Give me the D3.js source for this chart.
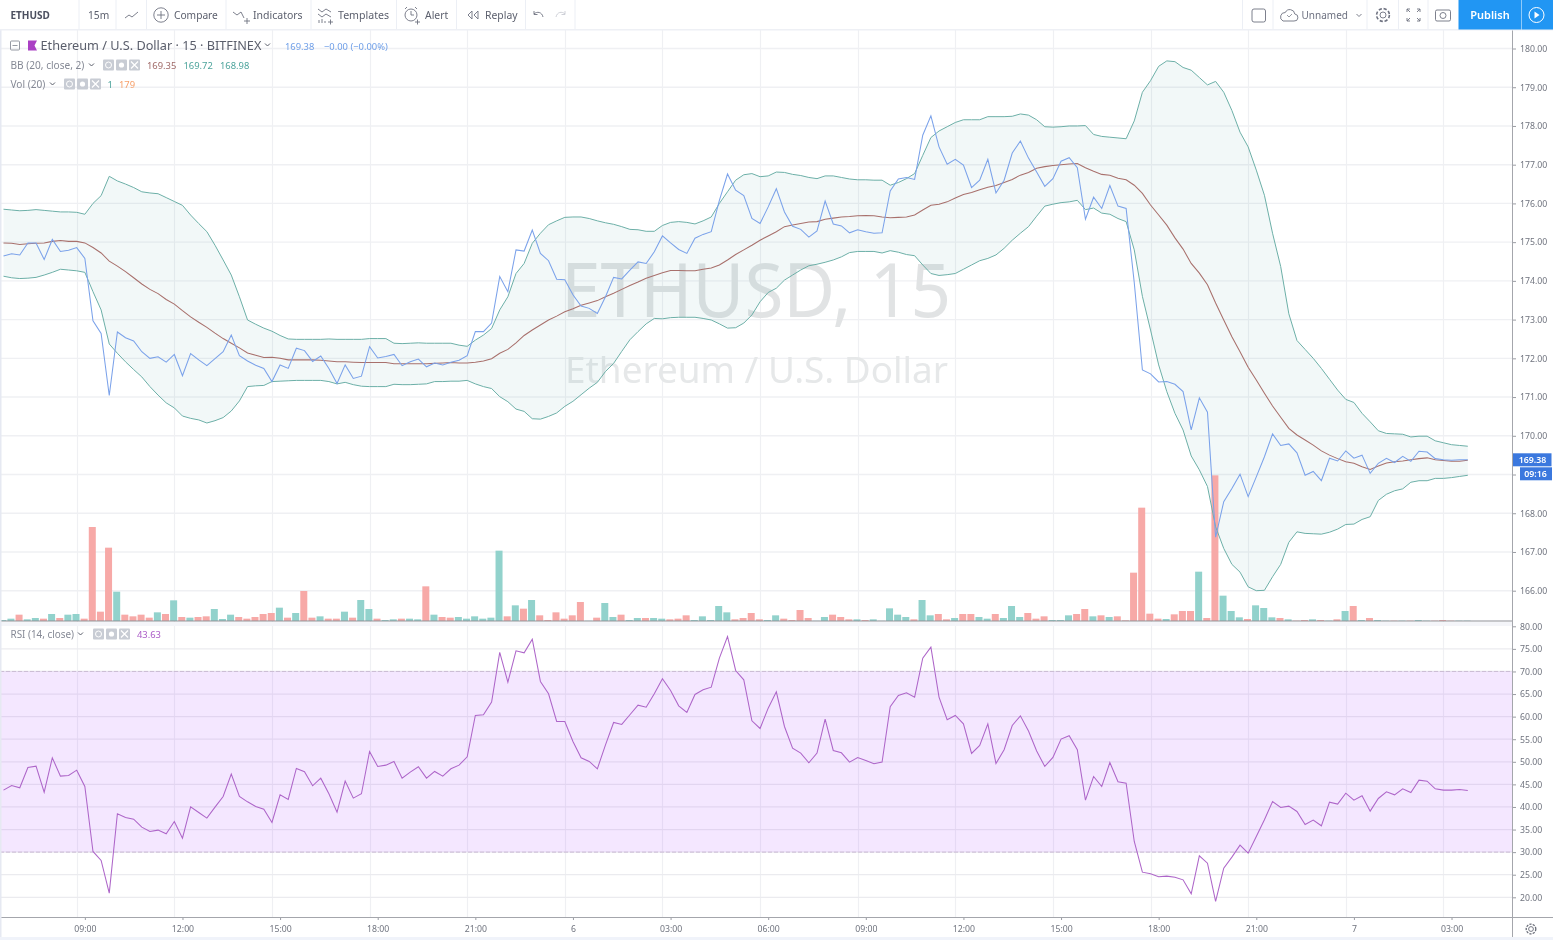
<!DOCTYPE html>
<html>
<head>
<meta charset="utf-8">
<title>ETHUSD</title>
<script src="https://cdnjs.cloudflare.com/ajax/libs/d3/7.8.5/d3.min.js"></script>
<style>
html,body{margin:0;padding:0;background:#fff;overflow:hidden}
svg{display:block;filter:blur(.3px)}
text{font-family:"Noto Sans",sans-serif}
</style>
</head>
<body>
<svg id="c" width="1553" height="940"></svg>
<script>
// ---------- data (one value per 15 minute bar) ----------
const close = [174.64,174.70,174.67,174.98,174.98,174.55,175.07,174.76,174.79,174.86,174.58,172.97,172.64,171.04,172.68,172.53,172.45,172.17,172.00,172.04,
171.90,172.10,171.55,172.12,171.96,171.81,171.99,172.17,172.60,172.07,171.93,171.82,171.74,171.40,171.83,171.74,172.26,172.20,171.92,172.06,
171.74,171.35,171.83,171.48,171.54,172.30,172.01,172.05,172.10,171.81,171.91,171.98,171.78,171.88,171.83,171.90,171.95,172.07,172.69,172.69,
172.91,174.11,173.72,174.80,174.77,175.31,174.71,174.52,174.04,174.03,173.64,173.35,173.29,173.16,173.59,174.09,174.05,174.28,174.49,174.45,
174.75,175.16,174.98,174.81,174.71,175.10,175.20,175.27,176.08,176.76,176.34,176.20,175.61,175.48,175.91,176.38,175.78,175.41,175.33,175.13,
175.29,176.06,175.47,175.42,175.24,175.32,175.27,175.23,175.24,176.32,176.63,176.67,176.62,177.76,178.26,177.46,177.01,177.14,176.99,176.41,
176.60,177.14,176.27,176.60,177.30,177.61,177.17,176.81,176.44,176.64,177.09,177.18,176.92,175.59,176.16,175.87,176.46,175.93,175.87,173.95,
171.70,171.60,171.39,171.40,171.33,171.14,170.15,170.98,170.61,167.38,168.30,168.64,169.01,168.43,168.94,169.46,170.05,169.75,169.79,169.56,
168.98,169.08,168.84,169.42,169.35,169.61,169.42,169.50,169.03,169.29,169.42,169.31,169.47,169.34,169.60,169.58,169.41,169.38,169.37,169.38,169.38];

const basis = [174.98,174.97,174.94,174.96,174.97,174.98,175.02,175.04,175.02,175.02,174.98,174.86,174.72,174.51,174.38,174.24,174.08,173.92,173.78,173.67,
173.52,173.40,173.23,173.07,172.93,172.80,172.65,172.51,172.39,172.27,172.14,172.08,172.02,172.03,172.00,171.96,171.96,171.96,171.96,171.95,
171.93,171.91,171.91,171.90,171.89,171.89,171.89,171.89,171.86,171.86,171.86,171.86,171.86,171.87,171.88,171.89,171.88,171.88,171.90,171.93,
171.99,172.13,172.23,172.40,172.59,172.73,172.86,172.99,173.09,173.20,173.28,173.37,173.43,173.49,173.59,173.68,173.78,173.88,173.97,174.07,
174.14,174.21,174.27,174.27,174.26,174.26,174.30,174.33,174.41,174.54,174.68,174.80,174.92,175.05,175.16,175.27,175.40,175.44,175.48,175.52,
175.53,175.59,175.62,175.65,175.66,175.68,175.69,175.68,175.65,175.63,175.64,175.65,175.70,175.83,175.95,175.98,176.04,176.14,176.23,176.28,
176.35,176.42,176.46,176.54,176.62,176.73,176.80,176.91,176.95,176.98,177.00,177.02,177.03,176.92,176.83,176.75,176.73,176.65,176.61,176.47,
176.26,175.96,175.70,175.44,175.11,174.82,174.45,174.20,173.90,173.43,172.99,172.56,172.17,171.77,171.44,171.10,170.77,170.48,170.19,170.02,
169.89,169.76,169.61,169.50,169.41,169.33,169.29,169.20,169.13,169.22,169.30,169.33,169.35,169.38,169.41,169.43,169.38,169.36,169.34,169.34,169.37];

const upper = [175.85,175.83,175.81,175.82,175.84,175.82,175.80,175.78,175.78,175.77,175.72,176.00,176.20,176.70,176.58,176.50,176.41,176.30,176.27,176.25,
176.15,176.05,175.95,175.70,175.48,175.27,174.92,174.54,174.15,173.59,172.99,172.88,172.78,172.70,172.59,172.50,172.49,172.49,172.49,172.49,
172.50,172.49,172.49,172.49,172.49,172.51,172.51,172.51,172.39,172.38,172.39,172.40,172.39,172.39,172.39,172.39,172.34,172.31,172.47,172.60,
172.77,173.25,173.59,174.19,174.45,174.97,175.23,175.45,175.55,175.64,175.65,175.65,175.61,175.55,175.50,175.46,175.40,175.33,175.32,175.28,
175.28,175.43,175.51,175.53,175.51,175.47,175.55,175.65,176.00,176.30,176.60,176.74,176.77,176.69,176.71,176.81,176.80,176.75,176.72,176.67,
176.64,176.71,176.71,176.67,176.63,176.61,176.61,176.60,176.60,176.47,176.54,176.64,176.77,177.24,177.70,177.87,177.98,178.09,178.16,178.16,
178.16,178.24,178.24,178.24,178.25,178.31,178.28,178.16,177.98,177.97,177.98,178.00,178.00,178.01,177.78,177.73,177.71,177.69,177.67,178.13,
178.87,179.17,179.54,179.68,179.66,179.51,179.44,179.25,179.06,179.15,178.87,178.40,177.84,177.46,176.86,176.21,175.23,174.37,173.15,172.46,
172.23,172.00,171.74,171.46,171.18,170.94,170.86,170.58,170.36,170.13,170.06,170.05,170.04,169.97,169.99,169.99,169.87,169.82,169.77,169.75,169.73];

const lower = [174.12,174.08,174.06,174.07,174.09,174.15,174.22,174.30,174.28,174.26,174.22,173.72,173.25,172.37,172.13,171.91,171.71,171.52,171.27,171.05,
170.85,170.72,170.51,170.45,170.41,170.33,170.39,170.47,170.64,170.90,171.27,171.29,171.30,171.40,171.41,171.42,171.43,171.43,171.43,171.43,
171.40,171.34,171.38,171.32,171.28,171.27,171.27,171.27,171.33,171.32,171.32,171.33,171.34,171.40,171.40,171.41,171.41,171.43,171.34,171.27,
171.22,171.01,170.88,170.69,170.63,170.44,170.43,170.50,170.59,170.76,170.89,171.06,171.23,171.38,171.66,171.87,172.18,172.48,172.69,172.89,
173.03,173.02,173.05,173.06,173.06,173.06,173.03,172.99,172.89,172.78,172.79,172.91,173.12,173.46,173.70,173.81,174.02,174.15,174.28,174.39,
174.43,174.48,174.54,174.62,174.73,174.76,174.76,174.76,174.72,174.78,174.74,174.68,174.65,174.41,174.19,174.14,174.16,174.19,174.30,174.41,
174.52,174.58,174.67,174.84,175.05,175.23,175.40,175.67,175.93,175.98,176.02,176.04,176.08,175.84,175.88,175.75,175.72,175.61,175.53,174.80,
173.60,172.73,171.83,171.14,170.58,170.15,169.48,169.12,168.69,167.65,167.09,166.68,166.48,166.10,166.00,166.01,166.36,166.68,167.25,167.52,
167.48,167.47,167.46,167.51,167.59,167.71,167.72,167.84,167.91,168.33,168.49,168.58,168.63,168.80,168.84,168.84,168.90,168.90,168.92,168.95,168.98];

const rsi = [43.73,44.76,44.24,48.75,49.04,43.28,50.89,46.83,46.97,48.15,44.54,30.15,28.15,20.92,38.49,37.68,37.31,35.54,34.58,34.87,
34.06,36.79,33.10,40.04,38.78,37.53,39.96,42.32,47.27,42.32,41.14,40.11,39.52,36.57,42.69,41.66,48.52,47.79,44.69,46.38,
42.92,38.86,45.72,41.96,42.92,52.29,48.97,49.26,50.07,46.38,47.71,48.89,46.38,47.86,46.83,48.45,49.26,51.11,60.26,60.41,
63.21,74.21,67.64,74.58,74.13,77.16,67.79,65.06,58.93,58.93,54.50,50.89,50.07,48.45,53.76,58.71,58.27,60.41,62.55,62.10,
65.06,68.38,65.79,62.40,60.92,64.91,65.94,66.53,72.95,77.75,70.22,68.15,59.08,57.38,61.88,65.50,57.82,53.03,51.92,49.78,
51.92,59.45,52.51,51.99,49.93,50.96,50.30,49.56,49.93,62.18,64.69,65.28,64.32,72.95,75.39,64.32,59.30,60.26,58.41,51.85,
53.62,58.41,49.63,52.66,58.04,60.18,56.80,52.40,48.97,50.96,55.02,55.76,52.66,41.51,46.75,44.54,49.85,45.57,45.28,32.36,
25.57,25.20,24.54,24.69,24.46,23.87,20.77,29.19,27.56,19.08,26.46,28.89,31.55,29.78,33.47,37.16,41.22,39.89,40.18,39.00,
36.13,37.08,35.83,41.07,40.63,43.06,41.51,42.47,39.08,41.88,43.36,42.69,44.02,43.21,45.94,45.72,44.02,43.73,43.73,43.87,43.63];

const volume = [30,70,190,50,90,70,210,90,190,210,70,2820,280,2200,880,190,140,190,100,260,
210,620,120,100,120,140,360,60,190,120,70,120,210,240,400,100,240,900,100,140,
70,70,280,100,630,360,70,30,50,70,70,50,1040,190,120,100,120,70,140,70,
100,2110,140,470,370,630,170,30,260,70,170,570,5,100,540,120,190,30,90,90,
90,70,50,70,170,30,140,30,450,260,50,90,240,50,30,170,70,30,330,90,
5,120,190,120,50,50,30,50,5,380,190,120,50,630,170,210,50,90,210,210,
120,70,210,90,450,120,240,70,140,30,30,170,210,360,140,170,120,140,20,1450,
3400,220,70,60,200,300,300,1480,90,4370,760,300,110,60,470,390,110,90,50,10,
30,50,30,10,50,300,450,30,90,30,10,10,10,10,30,10,10,30,10,10,10];

const volumeUp = [1,1,0,1,1,0,1,0,1,1,0,0,0,0,1,0,0,0,0,1,
0,1,0,1,0,0,1,1,1,0,0,0,0,0,1,0,1,0,0,1,
0,0,1,0,1,1,0,1,1,0,1,1,0,1,0,0,1,1,1,1,
1,1,0,1,0,1,0,0,0,0,0,0,1,0,1,1,0,1,1,0,
1,1,0,0,0,1,1,1,1,1,0,0,0,0,1,1,0,0,0,0,
1,1,0,0,0,1,0,1,1,1,1,1,0,1,1,0,0,1,0,0,
1,1,0,1,1,1,0,0,0,1,1,1,0,0,1,0,1,0,0,0,
0,0,0,1,0,0,0,1,0,0,1,1,1,0,1,1,1,0,1,0,
0,1,0,1,0,1,0,1,0,1,1,0,1,0,1,1,0,0,0,1,1];

const priceTicks = [166,167,168,169,170,171,172,173,174,175,176,177,178,179,180];
const rsiTicks = [20,25,30,35,40,45,50,55,60,65,70,75,80];
const timeTickBars = [10,22,34,46,58,70,82,94,106,118,130,142,154,166,178];
const timeTickLabels = ["09:00","12:00","15:00","18:00","21:00","6","03:00","06:00","09:00","12:00","15:00","18:00","21:00","7","03:00"];
const rsiBandLimits = [30,70];

const leftTools = [["15m",88,10.2],["Compare",174,10.2],["Indicators",253,10.5],["Templates",338,10.6],["Alert",425,10.4],["Replay",485,10.4]];
const toolSeps = [79,116,146.5,226,311,396.5,456.5,525.5,575,1242.5,1273,1367,1398.5,1428];

// ---------- scales ----------
const svg = d3.select("#c");
const x = d3.scaleLinear().domain([0,180]).range([3.5,1467.8]);
const yP = d3.scaleLinear().domain([166,180]).range([590.7,48.5]);
const yR = d3.scaleLinear().domain([20,80]).range([897.3,626.3]);
const yV = d3.scaleLinear().domain([0,30]).range([621,620]);
const AX = 1512, P1T = 30, P2B = 917;
const gridC = "#eff0f3", axisTxt = "#70747f";

// ---------- grid ----------
const grid = svg.append("g");
grid.selectAll("line.v").data(timeTickBars).join("line").attr("class","v")
  .attr("x1",d=>Math.round(x(d-1))+.5).attr("x2",d=>Math.round(x(d-1))+.5)
  .attr("y1",P1T).attr("y2",P2B).attr("stroke",gridC).attr("stroke-width",1.2);
grid.selectAll("line.p").data(priceTicks).join("line").attr("class","p")
  .attr("x1",0).attr("x2",AX).attr("y1",d=>yP(d)).attr("y2",d=>yP(d)).attr("stroke",gridC).attr("stroke-width",1.4);
grid.selectAll("line.r").data(rsiTicks.slice(0,-1)).join("line").attr("class","r")
  .attr("x1",0).attr("x2",AX).attr("y1",d=>yR(d)).attr("y2",d=>yR(d)).attr("stroke","#ebebef").attr("stroke-width",1.2);

// ---------- watermark ----------
svg.append("text").text("ETHUSD, 15").attr("x",561).attr("y",317)
  .attr("textLength",390).attr("lengthAdjust","spacingAndGlyphs")
  .attr("font-size",75).attr("fill","#e1e3e4");
svg.append("text").text("Ethereum / U.S. Dollar").attr("x",565).attr("y",383)
  .attr("textLength",383).attr("lengthAdjust","spacingAndGlyphs")
  .attr("font-size",36.5).attr("fill","#e6e8e9");

// ---------- Bollinger band ----------
const idx = d3.range(close.length);
const area = d3.area().x(i=>x(i)).y0(i=>yP(lower[i])).y1(i=>yP(upper[i]));
svg.append("path").attr("d",area(idx)).attr("fill","#2a8f90").attr("fill-opacity",.06);

// ---------- volume ----------
const bw = 7;
svg.append("g").selectAll("rect").data(idx).join("rect")
  .attr("x",i=>x(i)-.7-bw/2).attr("width",bw)
  .attr("y",i=>yV(volume[i])).attr("height",i=>yV(0)-yV(volume[i]))
  .attr("fill",i=>volumeUp[i]?"#92d2cc":"#f7a9a7");

const lineOf = (arr,y)=>d3.line().x(i=>x(i)).y(i=>y(arr[i]))(idx);
svg.append("path").attr("d",lineOf(upper,yP)).attr("fill","none").attr("stroke","#6cafa7").attr("stroke-width",1);
svg.append("path").attr("d",lineOf(lower,yP)).attr("fill","none").attr("stroke","#6cafa7").attr("stroke-width",1);
svg.append("path").attr("d",lineOf(basis,yP)).attr("fill","none").attr("stroke","#a8706c").attr("stroke-width",1.05);
svg.append("path").attr("d",lineOf(close,yP)).attr("fill","none").attr("stroke","#7ba2ea").attr("stroke-width",1.05);

// ---------- pane separator ----------
svg.append("rect").attr("x",0).attr("y",622).attr("width",AX).attr("height",4).attr("fill","#f4f5f9");
svg.append("line").attr("x1",0).attr("x2",AX).attr("y1",621).attr("y2",621).attr("stroke","#8d8f96").attr("stroke-width",1);

// ---------- RSI ----------
svg.append("rect").attr("x",0).attr("width",AX)
  .attr("y",yR(rsiBandLimits[1])).attr("height",yR(rsiBandLimits[0])-yR(rsiBandLimits[1]))
  .attr("fill","#9b30ff").attr("fill-opacity",.115);
svg.append("g").selectAll("line").data(rsiBandLimits).join("line")
  .attr("x1",0).attr("x2",AX).attr("y1",d=>yR(d)).attr("y2",d=>yR(d))
  .attr("stroke","#cbbdd4").attr("stroke-width",1).attr("stroke-dasharray","4 2");
svg.append("path").attr("d",lineOf(rsi,yR)).attr("fill","none").attr("stroke","#ae66c9").attr("stroke-width",1.05);

// ---------- axes ----------
function styleAxis(g){
  g.select(".domain").remove();
  g.selectAll(".tick line").attr("stroke","#9a9ca3");
  g.selectAll(".tick text").attr("fill",axisTxt).attr("font-size",8.7).attr("font-family",'"Noto Sans",sans-serif');
}
const hiddenByLabel = 169; // covered by the countdown label in the reference
svg.append("g").attr("transform",`translate(${AX},0)`)
  .call(d3.axisRight(yP).tickValues(priceTicks).tickFormat(d=>d===hiddenByLabel?"":d.toFixed(2)).tickSize(4).tickPadding(4)).call(styleAxis);
svg.append("g").attr("transform",`translate(${AX},0)`)
  .call(d3.axisRight(yR).tickValues(rsiTicks).tickFormat(d=>d.toFixed(2)).tickSize(4).tickPadding(4)).call(styleAxis);
svg.append("g").attr("transform",`translate(0,${P2B})`)
  .call(d3.axisBottom(x).tickValues(timeTickBars).tickFormat((d,i)=>timeTickLabels[i]).tickSize(3).tickPadding(6)).call(styleAxis);

svg.append("line").attr("x1",AX+.5).attr("x2",AX+.5).attr("y1",P1T).attr("y2",937).attr("stroke","#a4a6ac").attr("stroke-width",1);
svg.append("line").attr("x1",0).attr("x2",1553).attr("y1",P2B+.5).attr("y2",P2B+.5).attr("stroke","#a4a6ac").attr("stroke-width",1);
svg.append("rect").attr("x",0).attr("y",937).attr("width",1553).attr("height",3).attr("fill","#f0f3fa");
svg.append("rect").attr("x",0).attr("y",30).attr("width",1.5).attr("height",907).attr("fill","#e6e9f2");

// ---------- price labels on the axis ----------
const lastY = yP(close[close.length-1]);
svg.append("rect").attr("x",AX+1).attr("y",lastY-6.5).attr("width",38.5).attr("height",13).attr("fill","#3b78de");
svg.append("text").text(close[close.length-1].toFixed(2)).attr("x",1532.5).attr("y",lastY+3.2).attr("text-anchor","middle")
  .attr("fill","#fff").attr("font-size",8.8).attr("font-weight",600);
svg.append("rect").attr("x",1520).attr("y",lastY+7.5).attr("width",32).attr("height",13).attr("fill","#3b78de");
svg.append("text").text("09:16").attr("x",1535.5).attr("y",lastY+17.3).attr("text-anchor","middle")
  .attr("fill","#fff").attr("font-size",8.8).attr("font-weight",600);

// ---------- toolbar ----------
svg.append("rect").attr("x",0).attr("y",0).attr("width",1553).attr("height",30).attr("fill","#fff");
svg.append("rect").attr("x",0).attr("y",29).attr("width",1553).attr("height",1.5).attr("fill","#eef0f5");
svg.append("g").selectAll("line").data(toolSeps).join("line")
  .attr("x1",d=>d).attr("x2",d=>d).attr("y1",0).attr("y2",29).attr("stroke","#eceff5");
svg.append("text").text("ETHUSD").attr("x",10.5).attr("y",18.5).attr("font-size",10).attr("font-weight",700).attr("fill","#4c5060");
svg.append("g").selectAll("text").data(leftTools).join("text")
  .text(d=>d[0]).attr("x",d=>d[1]).attr("y",18.8).attr("font-size",d=>d[2]).attr("fill","#5b5f6d");

const ic = svg.append("g").attr("fill","none").attr("stroke","#6e7280").attr("stroke-width",.9);
ic.append("path").attr("d","M125 18l4-3 3 2 6-5");                       // line style
ic.append("circle").attr("cx",161).attr("cy",15).attr("r",7.2);          // compare
ic.append("path").attr("d","M157 15h8M161 11v8");
ic.append("path").attr("d","M233 12l4 3 4-3 3 6M244 21h6M247 18v6");     // indicators
ic.append("path").attr("d","M318 9l4 3 4-3 5 3M318 14l4 3 4-3 5 3M319 23v-3M322 23v-4M325 23v-2M328 22h5M330.5 19.5v5"); // templates
ic.append("circle").attr("cx",411).attr("cy",15).attr("r",6);            // alert
ic.append("path").attr("d","M411 11v4h3M405 9l2-2M417 9l-2-2M415 22h5M417.5 19.5v5");
ic.append("path").attr("d","M472 11l-4 4 4 4zM478 11l-4 4 4 4z");        // replay
ic.append("path").attr("d","M534 14c3-3 8-2 9 3M534 11v3.5h3.5");        // undo
ic.append("path").attr("d","M565 14c-3-3-8-2-9 3M565 11v3.5h-3.5").attr("stroke","#c9ccd4"); // redo
ic.append("rect").attr("x",1252).attr("y",9).attr("width",13.5).attr("height",13).attr("rx",2);
ic.append("path").attr("d","M1283 21h11a3.5 3.5 0 0 0 .8-7 5 5 0 0 0-9.5-1.5 4.5 4.5 0 0 0-2.3 8.5z");
ic.append("path").attr("d","M1287 15l2 2 3-3").attr("stroke-width",.7);
ic.append("path").attr("d","M1356.5 14l2.5 2.5 2.5-2.5");
ic.append("circle").attr("cx",1383).attr("cy",15).attr("r",3);
ic.append("circle").attr("cx",1383).attr("cy",15).attr("r",6.4).attr("stroke-dasharray","3.2 1.8").attr("stroke-width",1.6);
ic.append("path").attr("d","M1407 12v-3h3M1417 9h3v3M1420 18v3h-3M1410 21h-3v-3M1407 9l3 3M1420 9l-3 3M1407 21l3-3M1420 21l-3-3");
ic.append("rect").attr("x",1435.5).attr("y",10).attr("width",15).attr("height",11).attr("rx",1.5);
ic.append("circle").attr("cx",1443).attr("cy",15.5).attr("r",3);
svg.append("rect").attr("x",1458.5).attr("y",0).attr("width",63).attr("height",29.5).attr("fill","#2196f3");
svg.append("rect").attr("x",1522).attr("y",0).attr("width",31).attr("height",29.5).attr("fill","#2196f3");
svg.append("text").text("Publish").attr("x",1490).attr("y",19.3).attr("text-anchor","middle").attr("fill","#fff").attr("font-size",11).attr("font-weight",600);
svg.append("circle").attr("cx",1536.5).attr("cy",15).attr("r",7.5).attr("fill","none").attr("stroke","#fff").attr("stroke-width",1);
svg.append("path").attr("d","M1534.5 11.5l5 3.5-5 3.5z").attr("fill","#fff");
svg.append("text").text("Unnamed").attr("x",1301.5).attr("y",18.8).attr("font-size",10).attr("fill","#6d7180");
// corner gear
ic.append("circle").attr("cx",1531).attr("cy",929).attr("r",2.4).attr("stroke","#666a76");
ic.append("circle").attr("cx",1531).attr("cy",929).attr("r",4.8).attr("stroke","#666a76").attr("stroke-dasharray","2.2 1.2").attr("stroke-width",1.3);

// ---------- legend ----------
function txt(s,xx,yy,size,fill){return svg.append("text").text(s).attr("x",xx).attr("y",yy).attr("font-size",size).attr("fill",fill);}
svg.append("rect").attr("x",10.5).attr("y",41).attr("width",9).attr("height",9).attr("rx",1).attr("fill","none").attr("stroke","#8a8e99").attr("stroke-width",.9);
svg.append("path").attr("d","M12.5 45.5h5").attr("stroke","#8a8e99").attr("stroke-width",.9);
svg.append("path").attr("d","M28 40.5h9l-2.5 5 2.5 5h-9z").attr("fill","#aa40c4");
txt("Ethereum / U.S. Dollar · 15 · BITFINEX",40.5,49.5,12.7,"#5a5e6b");
svg.append("path").attr("d","M265 43.5l2.5 2.5 2.5-2.5").attr("fill","none").attr("stroke","#5a5e6b").attr("stroke-width",1);
txt("169.38",285,49.5,9.4,"#6f9fe8");
txt("−0.00 (−0.00%)",324,49.5,9.4,"#6f9fe8");

txt("BB (20, close, 2)",10.5,68.5,10.1,"#858995");
txt("169.35",147,68.5,9.4,"#a06a68");
txt("169.72",183.5,68.5,9.4,"#4da49c");
txt("168.98",220,68.5,9.4,"#4da49c");
txt("Vol (20)",10.5,87.5,10.1,"#858995");
txt("1",107.5,87.5,9.4,"#4da49c");
txt("179",119,87.5,9.4,"#f7a06a");
txt("RSI (14, close)",10.5,638,9.9,"#858995");
txt("43.63",137,638,9.4,"#ab5cc7");

function legendBtns(x0,yy){
  [0,13,26].forEach(dx=>{
    svg.append("rect").attr("x",x0+dx).attr("y",yy).attr("width",11).attr("height",11).attr("rx",1).attr("fill","#c8ccd4");
  });
  svg.append("circle").attr("cx",x0+5.5).attr("cy",yy+5.5).attr("r",3).attr("fill","none").attr("stroke","#fff");
  svg.append("circle").attr("cx",x0+18.5).attr("cy",yy+5.5).attr("r",2.6).attr("fill","#fff");
  svg.append("path").attr("d",`M${x0+28} ${yy+2}l7 7M${x0+35} ${yy+2}l-7 7`).attr("stroke","#fff").attr("stroke-width",1.2);
}
legendBtns(103,59.5); legendBtns(64,78.5); legendBtns(93,628.5);
[[89,63.5],[50,82.5],[78,632.5]].forEach(p=>{
  svg.append("path").attr("d",`M${p[0]} ${p[1]}l2.5 2.5 2.5-2.5`).attr("fill","none").attr("stroke","#5a5e6b").attr("stroke-width",1);
});
</script>
</body>
</html>
